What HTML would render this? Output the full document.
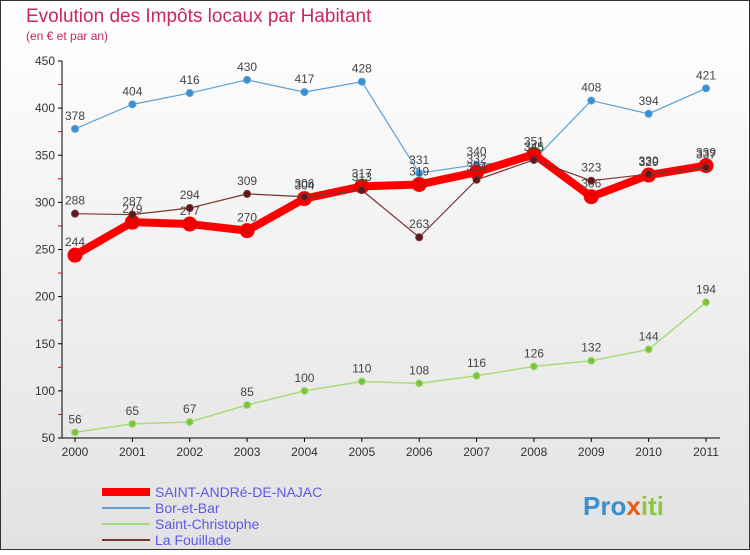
<!DOCTYPE html>
<html><head><meta charset="utf-8"><style>
body{margin:0;width:750px;height:550px;overflow:hidden;font-family:"Liberation Sans",sans-serif}
svg text{font-family:"Liberation Sans",sans-serif}
</style></head><body>
<svg id="chart" width="750" height="550" xmlns="http://www.w3.org/2000/svg">
<defs><linearGradient id="bg" x1="0" y1="0" x2="0" y2="1"><stop offset="0" stop-color="#ffffff"/><stop offset="1" stop-color="#e2e2e2"/></linearGradient></defs>
<rect x="0.5" y="0.5" width="749" height="549" fill="url(#bg)" stroke="#333"/>
<text x="26" y="22" font-size="19" fill="#c8285a">Evolution des Impôts locaux par Habitant</text>
<text x="26" y="40" font-size="12" fill="#c8285a">(en € et par an)</text>
<g id="axes"></g><g id="series"></g><g id="legend"></g>
<text x="583" y="515" font-size="26" font-weight="bold" fill="#3a8fd0">Pro<tspan fill="#e85a1a">x</tspan><tspan fill="#8cc63f">iti</tspan></text>
</svg>
<script>
const years=[2000,2001,2002,2003,2004,2005,2006,2007,2008,2009,2010,2011];
const yTicks=[50,100,150,200,250,300,350,400,450];
const seriesNames=["SAINT-ANDRé-DE-NAJAC","Bor-et-Bar","Saint-Christophe","La Fouillade"];
const stAndre=[244,279,277,270,304,317,319,332,351,306,329,339];
const borEtBar=[378,404,416,430,417,428,331,340,345,408,394,421];
const stChristophe=[56,65,67,85,100,110,108,116,126,132,144,194];
const laFouillade=[288,287,294,309,306,313,263,324,345,323,330,337];
const NS="http://www.w3.org/2000/svg";
const X=i=>75+i*(706-75)/(years.length-1);
const Y=v=>438-(v-50)*(438-61)/400;
function mk(t,a,p){const e=document.createElementNS(NS,t);for(const k in a)e.setAttribute(k,a[k]);p.appendChild(e);return e;}
const ax=document.getElementById('axes');
const yl=mk('line',{x1:62,y1:61,x2:62,y2:438,stroke:'#000'},ax);


const xl=mk('line',{x1:62,y1:438,x2:720,y2:438,stroke:'#000'},ax);


yTicks.forEach(v=>{mk('line',{x1:58,y1:Y(v),x2:62,y2:Y(v),stroke:'#000'},ax);
 if(v<450)mk('line',{x1:58,y1:Y(v+25),x2:62,y2:Y(v+25),stroke:'#e00'},ax);
 const t=mk('text',{x:55,y:Y(v)+4,'font-size':12,'text-anchor':'end',fill:'#333'},ax);t.textContent=v;
 
 });
years.forEach((y,i)=>{mk('line',{x1:X(i),y1:438,x2:X(i),y2:442,stroke:'#000'},ax);
 const t=mk('text',{x:X(i),y:456,'font-size':12,'text-anchor':'middle',fill:'#333'},ax);t.textContent=y;
 
 });
const sg=document.getElementById('series');
function draw(data,color,dot,w,r,name){
 const g=mk('g',{},sg);
 
 
 mk('polyline',{points:data.map((v,i)=>X(i)+','+Y(v)).join(' '),fill:'none',stroke:color,'stroke-width':w,'stroke-linejoin':'round'},g);
 data.forEach((v,i)=>{const c=mk('circle',{cx:X(i),cy:Y(v),r:r,fill:dot,stroke:color,'stroke-width':1},g);
  
  
  const t=mk('text',{x:X(i),y:Y(v)-9,'font-size':12,'text-anchor':'middle',fill:'#444'},g);t.textContent=v;
  
  });
}
draw(stChristophe,'#a8dc78','#7cc142',1.5,3.5,'series-saint-christophe');
draw(borEtBar,'#5ba0d8','#3a8fd0',1.2,3.5,'series-bor-et-bar');
draw(stAndre,'#ff0000','#ee0000',8,7,'series-saint-andre');
draw(laFouillade,'#7a3333','#5a1a1a',1.2,3.5,'series-la-fouillade');
const lg=document.getElementById('legend');
const lc=[['#ff0000',8],['#5ba0d8',2],['#a8dc78',2],['#7a3333',2]];
seriesNames.forEach((n,i)=>{const y=492+i*16;
 const e=mk('g',{},lg);
 
 
 mk('line',{x1:102,y1:y,x2:150,y2:y,stroke:lc[i][0],'stroke-width':lc[i][1]},e);
 const t=mk('text',{x:155,y:y+5,'font-size':14,fill:'#5a5ae6'},e);t.textContent=n;});
</script>
</body></html>
